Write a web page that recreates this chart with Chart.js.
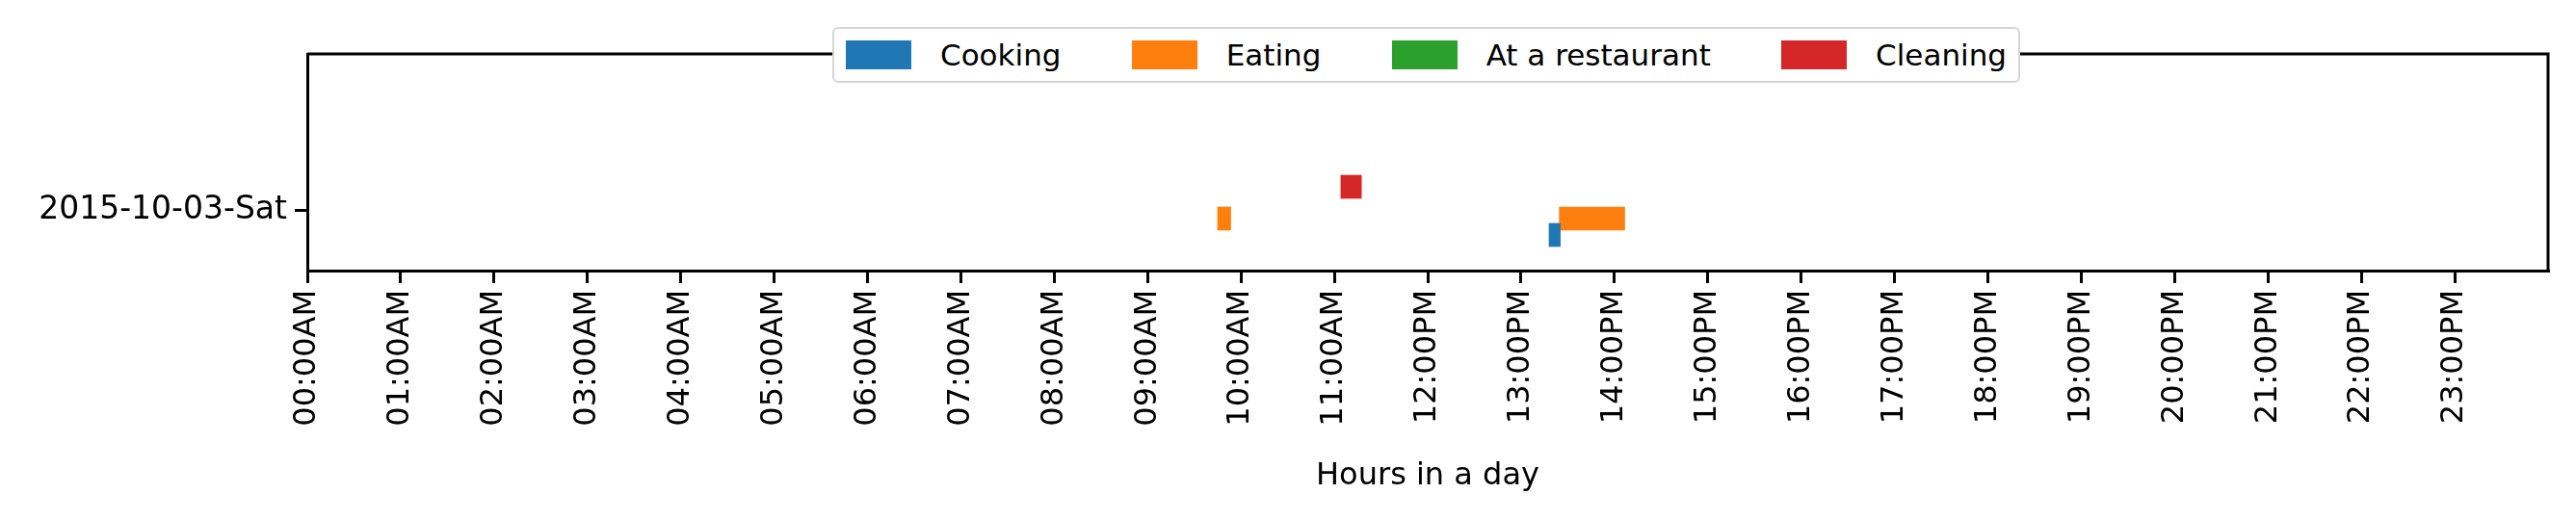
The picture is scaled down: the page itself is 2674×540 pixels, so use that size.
<!DOCTYPE html>
<html>
<head>
<meta charset="utf-8">
<script src="https://cdn.jsdelivr.net/npm/chart.js@4"></script>
<style>
  body { margin: 0; background: #fff; }
  #wrap { position: relative; width: 2674px; height: 540px; }
  #legend {
    position: absolute; left: 864px; top: 28px; width: 1205px; height: 54px;
    border: 2px solid #d6d6d6; border-radius: 6px; background: #fff;
    display: flex; align-items: center; justify-content: space-between;
    padding: 0 12px; box-sizing: content-box;
    font-family: "DejaVu Sans", sans-serif; font-size: 31px; color: #000;
  }
  .item { display: flex; align-items: center; }
  .sw { width: 68px; height: 30px; margin-right: 30px; }
</style>
</head>
<body>
<div id="wrap">
  <canvas id="myChart" width="2674" height="540"></canvas>
  <div id="legend"></div>
</div>
<script>
// activities and when they happened (hours in the day)
var activities = ['Cooking', 'Eating', 'At a restaurant', 'Cleaning'];
var colors = ['#1f77b4', '#ff7f0e', '#2ca02c', '#d62728'];
var rowOffsets = [-0.26, -0.09, 0.08, 0.24];   // vertical shift of each activity around the day row
var dayLabel = '2015-10-03-Sat';
var cookingTimes = [[13.30, 13.42]];
var eatingTimes = [[9.75, 9.89], [13.41, 14.11]];
var restaurantTimes = [];
var cleaningTimes = [[11.07, 11.29]];
var hourTicks = ['00:00AM','01:00AM','02:00AM','03:00AM','04:00AM','05:00AM','06:00AM','07:00AM',
  '08:00AM','09:00AM','10:00AM','11:00AM','12:00PM','13:00PM','14:00PM','15:00PM','16:00PM',
  '17:00PM','18:00PM','19:00PM','20:00PM','21:00PM','22:00PM','23:00PM'];

var allTimes = [cookingTimes, eatingTimes, restaurantTimes, cleaningTimes];
var datasets = activities.map(function(name, i) {
    return {
        label: name,
        data: allTimes[i].map(function(t) { return { x: t, y: rowOffsets[i] }; }),
        backgroundColor: colors[i],
        borderWidth: 0,
        barThickness: 24,
        grouped: false
    };
});

// html legend, sits over the top of the frame like the original
var leg = document.getElementById('legend');
activities.forEach(function(name, i) {
    leg.innerHTML += '<div class="item"><div class="sw" style="background:' + colors[i] + '"></div>' + name + '</div>';
});

var font = { family: 'DejaVu Sans', size: 32 };
var ctx = document.getElementById('myChart').getContext('2d');
new Chart(ctx, {
    type: 'bar',
    data: { datasets: datasets },
    options: {
        indexAxis: 'y',
        responsive: false,
        animation: false,
        layout: { padding: { top: 56, right: 29, bottom: 22, left: 0 } },
        plugins: { legend: { display: false }, tooltip: { enabled: false } },
        scales: {
            x: {
                type: 'linear', min: 0, max: 24,
                afterBuildTicks: function(s) { s.ticks = hourTicks.map(function(_, h) { return { value: h }; }); },
                afterFit: function(s) { s.height = 540 - 22 - 281; },
                ticks: {
                    font: font, color: '#000', minRotation: 90, maxRotation: 90, autoSkip: false, padding: 7,
                    callback: function(v) { return hourTicks[v]; }
                },
                grid: { drawOnChartArea: false, color: '#000', lineWidth: 3, tickLength: 13 },
                border: { color: '#000', width: 3 },
                title: { display: true, text: 'Hours in a day', font: font, color: '#000', padding: { top: 14 } }
            },
            y: {
                type: 'linear', min: -0.63, max: 1.62, offset: false,
                afterBuildTicks: function(s) { s.ticks = [{ value: 0 }]; },
                afterFit: function(s) { s.width = 319; },
                ticks: { font: { family: 'DejaVu Sans', size: 33 }, color: '#000', padding: 8,
                    callback: function() { return dayLabel; } },
                grid: { drawOnChartArea: false, offset: false, color: '#000', lineWidth: 3, tickLength: 13 },
                border: { color: '#000', width: 3 }
            }
        }
    },
    plugins: [{
        // close the frame on top and right
        id: 'frame',
        afterDraw: function(c) {
            var a = c.chartArea, g = c.ctx;
            g.save();
            g.strokeStyle = '#000'; g.lineWidth = 3;
            g.beginPath();
            g.moveTo(a.left, a.top); g.lineTo(a.right, a.top); g.lineTo(a.right, a.bottom);
            g.stroke();
            g.restore();
        }
    }]
});
</script>
</body>
</html>
